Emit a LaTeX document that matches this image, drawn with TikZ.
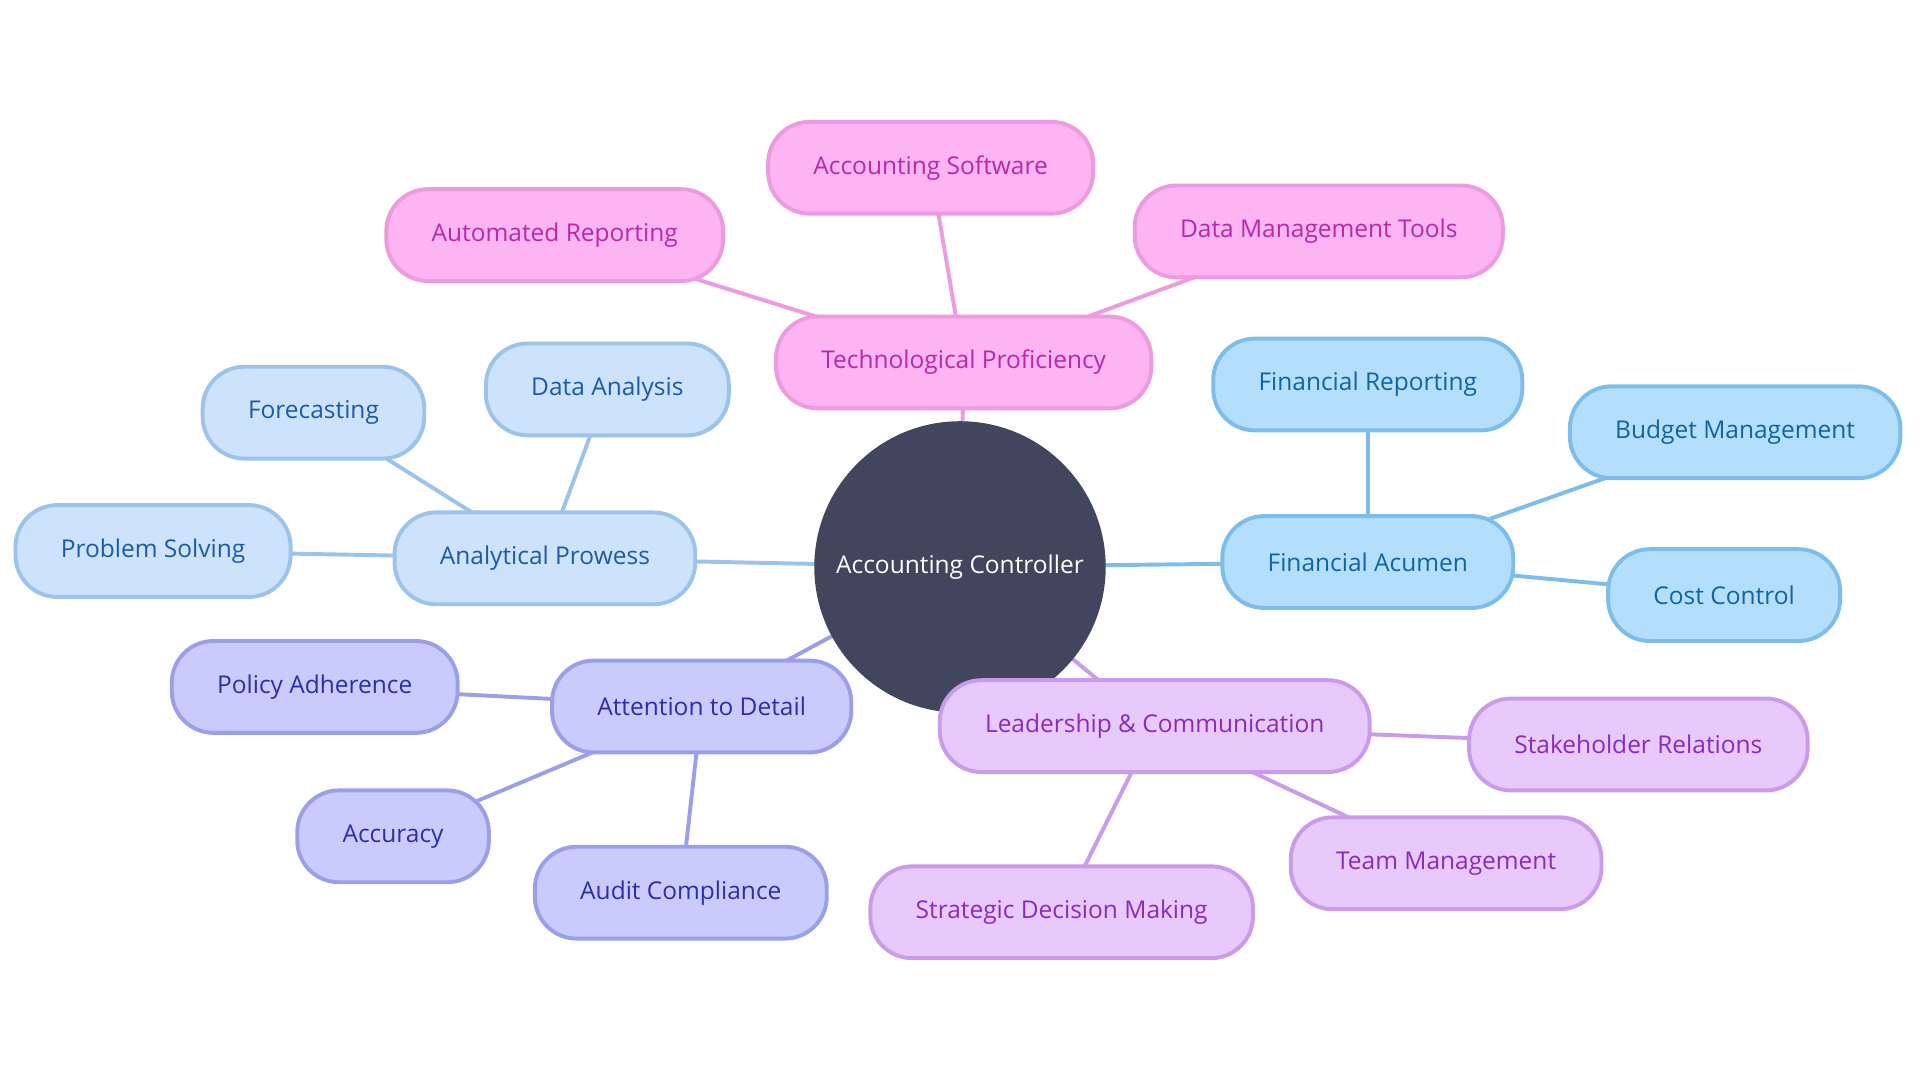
\documentclass[tikz,border=0pt]{standalone}
\usepackage{fontspec}
\setmainfont{Open Sans}
\usetikzlibrary{backgrounds}
\definecolor{hubfill}{HTML}{41455E}
\definecolor{techfill}{HTML}{FDB4F3}
\definecolor{techline}{HTML}{EE9ADF}
\definecolor{techtext}{HTML}{B62AA8}
\definecolor{finfill}{HTML}{B3DFFD}
\definecolor{finline}{HTML}{7DBDEB}
\definecolor{fintext}{HTML}{1164A3}
\definecolor{anafill}{HTML}{CCE3FB}
\definecolor{analine}{HTML}{9BC3EC}
\definecolor{anatext}{HTML}{1D5BA8}
\definecolor{detfill}{HTML}{C9CBFD}
\definecolor{detline}{HTML}{9B9FEA}
\definecolor{dettext}{HTML}{2B2FA8}
\definecolor{leadfill}{HTML}{E7C9FC}
\definecolor{leadline}{HTML}{CB9BEB}
\definecolor{leadtext}{HTML}{8A2BC0}

\begin{document}
\begin{tikzpicture}[x=1pt,y=-1pt,
  pill/.style={rounded corners=34pt, line width=3.2pt, minimum height=75pt,
    inner xsep=37pt, font=\fontsize{20}{24}\selectfont},
  tech/.style={pill, fill=techfill, draw=techline, text=techtext},
  fin/.style={pill, fill=finfill, draw=finline, text=fintext},
  ana/.style={pill, fill=anafill, draw=analine, text=anatext},
  det/.style={pill, fill=detfill, draw=detline, text=dettext},
  lead/.style={pill, fill=leadfill, draw=leadline, text=leadtext},
  link/.style={line width=3.2pt}]
\useasboundingbox (0,0) rectangle (1568,882);

\node[circle, fill=hubfill, minimum size=238pt, text=white,
  font=\fontsize{20}{24}\selectfont] (hub) at (784,463) {Accounting Controller};

\node[tech] (tp) at (787,296) {Technological Proficiency};
\node[tech] (as) at (760,137) {Accounting Software};
\node[tech] (ar) at (453,192) {Automated Reporting};
\node[tech] (dm) at (1077,189) {Data Management Tools};

\node[fin] (fa) at (1117,459) {Financial Acumen};
\node[fin] (fr) at (1117,314) {Financial Reporting};
\node[fin] (bm) at (1417,353) {Budget Management};
\node[fin] (cc) at (1408,486) {Cost Control};

\node[ana] (ap) at (445,456) {Analytical Prowess};
\node[ana] (da) at (496,318) {Data Analysis};
\node[ana] (fc) at (256,337) {Forecasting};
\node[ana] (ps) at (125,450) {Problem Solving};

\node[det] (ad) at (573,577) {Attention to Detail};
\node[det] (pa) at (257,561) {Policy Adherence};
\node[det] (acc) at (321,683) {Accuracy};
\node[det] (ac) at (556,729) {Audit Compliance};

\node[lead] (lc) at (943,593) {Leadership \& Communication};
\node[lead] (sr) at (1338,608) {Stakeholder Relations};
\node[lead] (tm) at (1181,705) {Team Management};
\node[lead] (sd) at (867,745) {Strategic Decision Making};

\begin{scope}[on background layer]
\draw[link, techline] (hub.center) -- (tp.center);
\draw[link, techline] (tp.center) -- (as.center);
\draw[link, techline] (tp.center) -- (ar.center);
\draw[link, techline] (tp.center) -- (dm.center);
\draw[link, finline] (hub.center) -- (fa.center);
\draw[link, finline] (fa.center) -- (fr.center);
\draw[link, finline] (fa.center) -- (bm.center);
\draw[link, finline] (fa.center) -- (cc.center);
\draw[link, analine] (hub.center) -- (ap.center);
\draw[link, analine] (ap.center) -- (da.center);
\draw[link, analine] (ap.center) -- (fc.center);
\draw[link, analine] (ap.center) -- (ps.center);
\draw[link, detline] (hub.center) -- (ad.center);
\draw[link, detline] (ad.center) -- (pa.center);
\draw[link, detline] (ad.center) -- (acc.center);
\draw[link, detline] (ad.center) -- (ac.center);
\draw[link, leadline] (hub.center) -- (lc.center);
\draw[link, leadline] (lc.center) -- (sr.center);
\draw[link, leadline] (lc.center) -- (tm.center);
\draw[link, leadline] (lc.center) -- (sd.center);
\end{scope}
\end{tikzpicture}
\end{document}
